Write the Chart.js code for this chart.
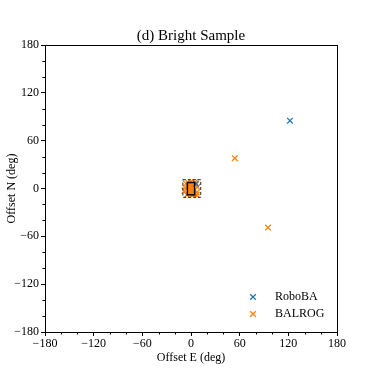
<!DOCTYPE html>
<html>
<head>
<meta charset="utf-8">
<script src="https://cdn.jsdelivr.net/npm/chart.js@4/dist/chart.umd.min.js"></script>
<style>
html,body{margin:0;padding:0;background:#fff;}
#wrap{width:374px;height:374px;}
</style>
</head>
<body>
<div id="wrap"><canvas id="c" width="374" height="374"></canvas></div>
<script>
// ---- data ----
const roboX = [122, 6];
const roboY = [85, 6];
const balrogX = [54, 95, 0, 1, -1, 6, -6, 7, -7, 2, -3, 8, -8, 4, 0, 7, -5, 5, 3, -2];
const balrogY = [38, -49, 0, 3, -3, 5, 6, -5, 1, -8, 7, 2, -3, -7, 8, -8, -8, 8, -5, 5];
const zoomBoxX = [-10, 12];
const zoomBoxY = [-11, 11];
const coreBoxX = [-4.5, 4.5];
const coreBoxY = [-8, 7.5];
const axisMin = -180, axisMax = 180;
const majorTicks = [-180, -120, -60, 0, 60, 120, 180];
const minorTicks = [-160, -140, -100, -80, -40, -20, 20, 40, 80, 100, 140, 160];
const seriesNames = ['RoboBA', 'BALROG'];
const colors = ['#1f77b4', '#ff7f0e'];

const FONT = "'Liberation Serif', 'DejaVu Serif', serif";
const fmt = v => (v < 0 ? '\u2212' + Math.abs(v) : String(v));

const toPts = (xs, ys) => xs.map((x, i) => ({x: x, y: ys[i]}));

const framePlugin = {
  id: 'frame',
  afterLayout(chart) {
    const a = chart.chartArea, t = chart.titleBlock;
    if (t) { t.left = a.left; t.right = a.right; t.width = a.right - a.left; }
  },
  beforeDatasetsDraw(chart) {
    const ctx = chart.ctx, xs = chart.scales.x, ys = chart.scales.y;
    const x0 = xs.getPixelForValue(coreBoxX[0]), x1 = xs.getPixelForValue(coreBoxX[1]);
    const y0 = ys.getPixelForValue(coreBoxY[1]), y1 = ys.getPixelForValue(coreBoxY[0]);
    ctx.save();
    ctx.fillStyle = colors[1];
    ctx.fillRect(x0, y0, x1 - x0, y1 - y0);
    ctx.restore();
  },
  afterDatasetsDraw(chart) {
    const ctx = chart.ctx, xs = chart.scales.x, ys = chart.scales.y;
    ctx.save();
    const x0 = xs.getPixelForValue(coreBoxX[0]), x1 = xs.getPixelForValue(coreBoxX[1]);
    const y0 = ys.getPixelForValue(coreBoxY[1]), y1 = ys.getPixelForValue(coreBoxY[0]);
    ctx.strokeStyle = '#000';
    ctx.lineWidth = 1.5;
    ctx.strokeRect(x0, y0, x1 - x0, y1 - y0);
    const zx0 = xs.getPixelForValue(zoomBoxX[0]), zx1 = xs.getPixelForValue(zoomBoxX[1]);
    const zy0 = ys.getPixelForValue(zoomBoxY[1]), zy1 = ys.getPixelForValue(zoomBoxY[0]);
    ctx.setLineDash([3, 2]);
    ctx.lineWidth = 1;
    ctx.strokeStyle = '#222';
    ctx.strokeRect(zx0, zy0, zx1 - zx0, zy1 - zy0);
    ctx.restore();
  },
  afterDraw(chart) {
    const ctx = chart.ctx, a = chart.chartArea, xs = chart.scales.x, ys = chart.scales.y;
    ctx.save();
    ctx.strokeStyle = '#000';
    ctx.lineWidth = 1;
    ctx.strokeRect(Math.round(a.left) + 0.5, Math.round(a.top) + 0.5,
                   Math.round(a.right - a.left), Math.round(a.bottom - a.top));
    ctx.beginPath();
    minorTicks.forEach(v => {
      const px = Math.round(xs.getPixelForValue(v)) + 0.5;
      ctx.moveTo(px, a.bottom); ctx.lineTo(px, a.bottom + 2.5);
      const py = Math.round(ys.getPixelForValue(v)) + 0.5;
      ctx.moveTo(a.left, py); ctx.lineTo(a.left - 2.5, py);
    });
    ctx.stroke();
    // legend
    const lx = 253, ly = [297, 314];
    ctx.font = "12px " + FONT;
    ctx.textBaseline = 'middle';
    ctx.fillStyle = '#000';
    seriesNames.forEach((n, i) => {
      ctx.strokeStyle = colors[i];
      ctx.lineWidth = 1.3;
      Chart.helpers.drawPoint(ctx, {pointStyle: 'crossRot', radius: 4, borderWidth: 1.3}, lx, ly[i]);
      ctx.fillText(n, 275, ly[i]);
    });
    ctx.restore();
  }
};

function axis(titleText, isX) {
  return {
    type: 'linear',
    min: axisMin, max: axisMax,
    afterBuildTicks: s => { s.ticks = majorTicks.map(v => ({value: v})); },
    afterFit: s => { if (isX) s.height = 42; else s.width = 45; },
    ticks: {
      color: '#000',
      font: {family: FONT, size: 12},
      padding: isX ? 1 : 2,
      maxRotation: 0,
      autoSkip: false,
      callback: v => fmt(v)
    },
    grid: {display: true, drawOnChartArea: false, drawTicks: true, tickLength: 4,
           tickColor: '#000', tickWidth: 1},
    border: {display: true, color: '#000', width: 1},
    title: {display: true, text: titleText, color: '#000',
            font: {family: FONT, size: 12},
            padding: isX ? {top: 0, bottom: 9} : {top: 5, bottom: 0}}
  };
}

new Chart(document.getElementById('c'), {
  type: 'scatter',
  data: {
    datasets: [
      {label: seriesNames[0], data: toPts(roboX, roboY), pointStyle: 'crossRot',
       pointRadius: 4, pointBorderWidth: 1.3, borderColor: colors[0], backgroundColor: colors[0]},
      {label: seriesNames[1], data: toPts(balrogX, balrogY), pointStyle: 'crossRot',
       pointRadius: 4, pointBorderWidth: 1.3, borderColor: colors[1], backgroundColor: colors[1]}
    ]
  },
  options: {
    responsive: false,
    animation: false,
    devicePixelRatio: 1,
    layout: {padding: {left: 0, right: 37, top: 0, bottom: 0}},
    plugins: {
      legend: {display: false},
      tooltip: {enabled: false},
      title: {display: true, text: '(d) Bright Sample', color: '#000',
              font: {family: FONT, size: 15, weight: 'normal'},
              padding: {top: 27, bottom: 0}}
    },
    scales: {x: axis('Offset E (deg)', true), y: axis('Offset N (deg)', false)}
  },
  plugins: [framePlugin]
});
</script>
</body>
</html>
